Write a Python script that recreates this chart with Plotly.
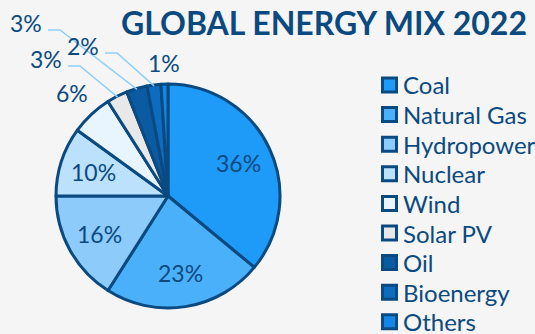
import math
import plotly.graph_objects as go

# ---- data ----
labels = ["Coal", "Natural Gas", "Hydropower", "Nuclear", "Wind",
          "Solar PV", "Oil", "Bioenergy", "Others"]
shares = [36, 23, 16, 10, 6, 3, 3, 2, 1]
colors = ["#1E9AF8", "#4BB0FA", "#8DCBFA", "#BCE1FC", "#E8F4FE",
          "#E8E8E8", "#0B5BA3", "#0D6CC0", "#1487E6"]
title_text = "GLOBAL ENERGY MIX 2022"

# ---- layout constants ----
W, H = 535, 334
CX, CY, R = 168, 196, 112          # pie centre / radius in pixels
NAVY = "#0B4A80"
LEADER = "#8ECFFA"
FONT = "Lato"
LABEL_SIZE = 23
INSIDE_FRAC = 0.70
inside_set = {"Coal", "Natural Gas", "Hydropower", "Nuclear"}
plain_outside = {"Wind", "Others"}
# elbow points (pixels) for leader-lined labels
elbows = {"Oil": (60, 30), "Bioenergy": (117, 53), "Solar PV": (80, 66)}
STUB = 12
# legend geometry (pixels)
LEG_SQ_X, LEG_Y0, LEG_STEP, LEG_SQ = 389.5, 85, 29.6, 14
LEG_TEXT_X = 401

def px2paper(x, y):
    return x / W, 1 - y / H

fig = go.Figure()
fig.add_trace(go.Pie(
    labels=labels, values=shares, sort=False, direction="clockwise",
    rotation=0,
    marker=dict(colors=colors, line=dict(color=NAVY, width=3)),
    textinfo="none",
    domain=dict(x=[(CX - R) / W, (CX + R) / W],
                y=[1 - (CY + R) / H, 1 - (CY - R) / H]),
    hoverinfo="label+percent",
    showlegend=False,
))

annotations = []
shapes = []
total = sum(shares)
cum = 0
for lab, v in zip(labels, shares):
    mid = (cum + v / 2) / total * 2 * math.pi
    cum += v
    sx, sy = math.sin(mid), -math.cos(mid)
    font = dict(family=FONT, size=LABEL_SIZE, color=NAVY)
    if lab in inside_set:
        rr = R * INSIDE_FRAC
        x, y = px2paper(CX + rr * sx, CY + rr * sy)
        annotations.append(dict(x=x, y=y, xref="paper", yref="paper",
                                text=f"{v}%", showarrow=False,
                                xanchor="center", yanchor="middle", font=font))
    elif lab in plain_outside:
        off = abs(sx) * 15 + abs(sy) * 9
        rr = R + 12 + off
        x, y = px2paper(CX + rr * sx, CY + rr * sy)
        annotations.append(dict(x=x, y=y, xref="paper", yref="paper",
                                text=f"{v}%", showarrow=False,
                                xanchor="center", yanchor="middle", font=font))
    elif lab in elbows:
        ex, ey = elbows[lab]
        edge = (CX + (R - 1) * sx, CY + (R - 1) * sy)
        p0 = px2paper(ex - STUB, ey)
        p1 = px2paper(ex, ey)
        p2 = px2paper(*edge)
        shapes.append(dict(type="path", xref="paper", yref="paper",
                           path=f"M {p0[0]} {p0[1]} L {p1[0]} {p1[1]} L {p2[0]} {p2[1]}",
                           line=dict(color=LEADER, width=1.5)))
        tx, ty = px2paper(ex - STUB - 4, ey + 9)
        annotations.append(dict(x=tx, y=ty, xref="paper", yref="paper",
                                text=f"{v}%", showarrow=False,
                                xanchor="right", yanchor="bottom", font=font))

# custom legend
for i, (lab, col) in enumerate(zip(labels, colors)):
    yc = LEG_Y0 + i * LEG_STEP
    a = px2paper(LEG_SQ_X - LEG_SQ / 2, yc + LEG_SQ / 2)
    b = px2paper(LEG_SQ_X + LEG_SQ / 2, yc - LEG_SQ / 2)
    shapes.append(dict(type="rect", xref="paper", yref="paper",
                       x0=a[0], y0=a[1], x1=b[0], y1=b[1],
                       fillcolor=col, line=dict(color=NAVY, width=3)))
    tx, ty = px2paper(LEG_TEXT_X, yc)
    annotations.append(dict(x=tx, y=ty, xref="paper", yref="paper",
                            text=lab, showarrow=False,
                            xanchor="left", yanchor="middle",
                            font=dict(family=FONT, size=24, color=NAVY)))

fig.update_layout(
    width=W, height=H,
    margin=dict(l=0, r=0, t=0, b=0),
    paper_bgcolor="#F5F5F5", plot_bgcolor="#F5F5F5",
    showlegend=False,
    title=dict(text=f"<b>{title_text}</b>", x=324 / W, xanchor="center",
               y=1 - 24 / H, yanchor="middle",
               font=dict(family=FONT, size=32, color=NAVY)),
    annotations=annotations, shapes=shapes,
)

fig.write_html("out.html",
               config={"displayModeBar": False},
               post_script="document.body.style.margin='0';"
                           "document.body.style.overflow='hidden';")
